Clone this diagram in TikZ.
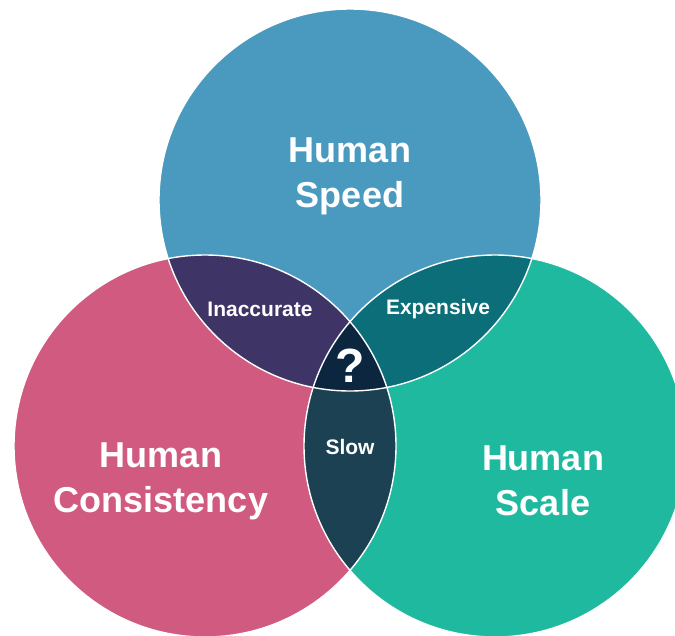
\documentclass[tikz,border=0pt]{standalone}
\usepackage{fontspec}
\setmainfont{Liberation Sans}
\begin{document}
\definecolor{speedblue}{HTML}{4A9ABF}
\definecolor{consistpink}{HTML}{D05A80}
\definecolor{scaleteal}{HTML}{1FB9A0}
\definecolor{inaccpurple}{HTML}{3E3566}
\definecolor{expteal}{HTML}{0B6E78}
\definecolor{slowslate}{HTML}{1B4152}
\definecolor{corenavy}{HTML}{0C2640}
\begin{tikzpicture}[x=1pt,y=-1pt,
  bigtext/.style={text=white,font=\bfseries\fontsize{36}{45}\selectfont,align=center},
  lenstext/.style={text=white,font=\bfseries\fontsize{21}{25}\selectfont},
  ring/.style={draw=white,line width=1.4pt}]
  \def\R{191}
  \useasboundingbox (0,0) rectangle (675,635);
  \coordinate (cs) at (350,200);
  \coordinate (cc) at (205,446);
  \coordinate (cl) at (495,446);
  \begin{scope}
    \clip (0,0) rectangle (675,635);
    % base circles
    \fill[speedblue] (cs) circle (\R);
    \fill[consistpink] (cc) circle (\R);
    \fill[scaleteal] (cl) circle (\R);
    % pairwise overlaps
    \begin{scope}
      \clip (cs) circle (\R);
      \fill[inaccpurple] (cc) circle (\R);
      \fill[expteal] (cl) circle (\R);
    \end{scope}
    \begin{scope}
      \clip (cc) circle (\R);
      \fill[slowslate] (cl) circle (\R);
    \end{scope}
    % triple overlap
    \begin{scope}
      \clip (cs) circle (\R);
      \clip (cc) circle (\R);
      \fill[corenavy] (cl) circle (\R);
    \end{scope}
    % white outlines
    \draw[ring] (cs) circle (\R);
    \draw[ring] (cc) circle (\R);
    \draw[ring] (cl) circle (\R);
  \end{scope}
  % labels
  \node[bigtext] (speed) at (350,176) {Human\\Speed};
  \node[bigtext] (consist) at (161,481) {Human\\Consistency};
  \node[bigtext] (scale) at (543,481) {Human\\Scale};
  \node[lenstext] (inacc) at (260,309) {Inaccurate};
  \node[lenstext] (expens) at (438,309) {Expensive};
  \node[lenstext] (slow) at (350,447) {Slow};
  \node[text=white,font=\bfseries\fontsize{48}{52}\selectfont] (core) at (350,366) {?};
\end{tikzpicture}
\end{document}
